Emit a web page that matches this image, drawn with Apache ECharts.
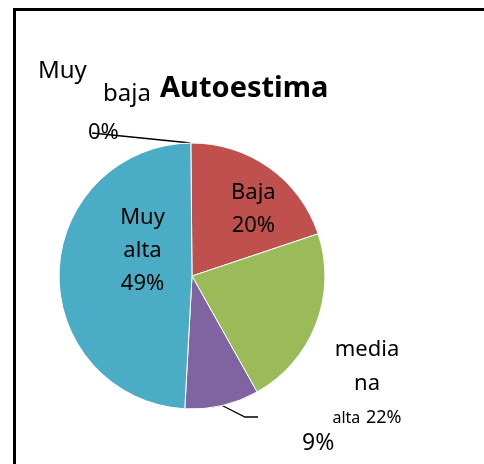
<!DOCTYPE html>
<html>
<head>
    <meta charset="utf-8">
    <script type="text/javascript" src="https://cdn.jsdelivr.net/npm/echarts@6/dist/echarts.min.js"></script>
    <style type="text/css">
        * {
            margin: 0;
            padding: 0;
        }
        body {
            background: #fff;
        }
        #container {
            width: 484px;
            height: 464px;
        }
    </style>
</head>
<body>
<div id="container"></div>

<script type="text/javascript">

    //标题
    var chartTitle = 'Autoestima';
    //分类
    var categories = ['Muy baja', 'Baja', 'mediana alta', 'Alta', 'Muy alta'];
    //百分比数据
    var values = [0, 20, 22, 9, 49];
    //扇区颜色
    var colors = ['#4F81BD', '#C0504D', '#9BBB59', '#8064A2', '#4BACC6'];

    var fontName = 'Noto Sans';

    //标签文字
    function labelText(params) {
        var pct = Math.round(params.percent) + '%';
        var i = params.dataIndex;
        if (i === 0) {
            var w = params.name.split(' ');
            return '{m|' + w[0] + '}\n{i|' + w[1] + '}\n{p|' + pct + '}';
        }
        if (i === 2) {
            var w2 = params.name.split(' ');
            return '{m|' + w2[0].slice(0, 5) + '}\n{m|' + w2[0].slice(5) + '}\n{s|' + w2[1] + '} {q|' + pct + '}';
        }
        if (i === 3) {
            return pct;
        }
        return params.name.replace(' ', '\n') + '\n' + pct;
    }

    //标签位置
    function placeLabel(params) {
        var i = params.dataIndex;
        var pts = params.labelLinePoints;
        if (i === 0) {
            return {
                x: 38, y: 59, align: 'left', verticalAlign: 'top',
                labelLinePoints: [pts[0], [92, 133]]
            };
        }
        if (i === 1) {
            return {dx: 21, dy: -10};
        }
        if (i === 2) {
            return {x: 367, y: 333, align: 'center', verticalAlign: 'top'};
        }
        if (i === 3) {
            return {
                x: 302, y: 443, align: 'left', verticalAlign: 'middle',
                labelLinePoints: [pts[0], [245, 417], [258, 417]]
            };
        }
        return {dx: 20, dy: -24};
    }

    var richStyles = {
        m: {fontSize: 24, lineHeight: 24, color: '#000', fontFamily: fontName},
        i: {fontSize: 24, lineHeight: 23, color: '#000', fontFamily: fontName, padding: [0, 0, 0, 65]},
        p: {fontSize: 22, lineHeight: 54, color: '#000', fontFamily: fontName, padding: [0, 0, 0, 50]}
    };
    var mediaRich = {
        m: {fontSize: 22, lineHeight: 34, color: '#000', fontFamily: fontName},
        s: {fontSize: 16, lineHeight: 34, color: '#000', fontFamily: fontName},
        q: {fontSize: 18, lineHeight: 34, color: '#000', fontFamily: fontName}
    };

    var pieData = categories.map(function (name, i) {
        var item = {
            name: name,
            value: values[i],
            itemStyle: {color: colors[i]}
        };
        if (i === 0) {
            item.label = {position: 'outside', rich: richStyles};
            item.labelLine = {show: true};
        } else if (i === 2) {
            item.label = {position: 'outside', rich: mediaRich};
            item.labelLine = {show: false};
        } else if (i === 3) {
            item.label = {position: 'outside', fontSize: 23};
            item.labelLine = {show: true};
        } else {
            item.label = {position: 'inner'};
        }
        return item;
    });

    var myChart = echarts.init(document.getElementById('container'));
    var option = {
        animation: false,
        title: {
            text: chartTitle,
            left: 160,
            top: 74,
            padding: 0,
            textStyle: {
                color: '#000',
                fontSize: 29,
                fontWeight: 'bold',
                fontFamily: fontName
            }
        },
        graphic: [
            {//边框
                type: 'polyline',
                shape: {points: [[14.5, 464], [14.5, 9.5], [484, 9.5]]},
                style: {stroke: '#000', lineWidth: 3, fill: null}
            }
        ],
        series: [
            {
                type: 'pie',
                center: [192, 276],
                radius: 133,
                startAngle: 90.5,
                clockwise: true,
                avoidLabelOverlap: false,
                percentPrecision: 0,
                itemStyle: {
                    borderColor: '#fff',
                    borderWidth: 1
                },
                label: {
                    show: true,
                    color: '#000',
                    fontSize: 22,
                    lineHeight: 33,
                    fontFamily: fontName,
                    align: 'center',
                    formatter: labelText
                },
                labelLine: {
                    length: 10,
                    length2: 20,
                    lineStyle: {color: '#000', width: 1.3}
                },
                labelLayout: placeLabel,
                emphasis: {disabled: true},
                data: pieData
            }
        ]
    };
    myChart.setOption(option);

</script>
</body>
</html>
